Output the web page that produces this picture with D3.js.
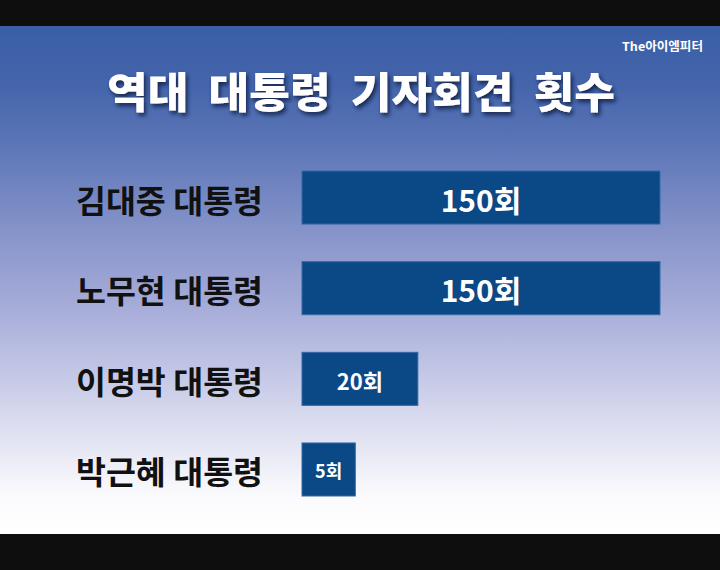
<!DOCTYPE html>
<html>
<head>
<meta charset="utf-8">
<script src="https://cdn.jsdelivr.net/npm/d3@7"></script>
<style>
  html, body { margin: 0; padding: 0; background: #0e0e0e; }
  svg { display: block; }
  text { font-family: "Noto Sans CJK KR", "Noto Sans", sans-serif; }
</style>
</head>
<body>
<script>
// ---- data ----
const titleText = "역대 대통령 기자회견 횟수";
const sourceText = "The아이엠피터";
const categories = ["김대중 대통령", "노무현 대통령", "이명박 대통령", "박근혜 대통령"];
const values = [150, 150, 20, 5];
const valueLabels = ["150회", "150회", "20회", "5회"];

// ---- chart ----
const W = 720, H = 570;
const svg = d3.select("body").append("svg").attr("width", W).attr("height", H);
const defs = svg.append("defs");

const grad = defs.append("linearGradient").attr("id", "bg")
  .attr("x1", 0).attr("y1", 0).attr("x2", 0).attr("y2", 1);
[[0, "#3a5ea7"], [0.12, "#4565ab"], [0.24, "#5d77b8"], [0.4, "#8593c9"], [0.54, "#a3aad7"],
 [0.66, "#bec2e3"], [0.77, "#d8daee"], [0.85, "#eaebf6"], [0.92, "#fafafd"], [1, "#ffffff"]]
  .forEach(([o, c]) => grad.append("stop").attr("offset", o).attr("stop-color", c));

const shadow = defs.append("filter").attr("id", "shadow")
  .attr("x", "-10%").attr("y", "-30%").attr("width", "120%").attr("height", "160%");
shadow.append("feDropShadow").attr("dx", 2).attr("dy", 3).attr("stdDeviation", 2.2)
  .attr("flood-color", "#0f1c44").attr("flood-opacity", 0.9);

// letterbox bars + background
svg.append("rect").attr("x", 0).attr("y", 0).attr("width", W).attr("height", H).attr("fill", "#0e0e0e");
svg.append("rect").attr("x", 0).attr("y", 26).attr("width", W).attr("height", 508).attr("fill", "url(#bg)");

// watermark
svg.append("text").attr("x", 622).attr("y", 45).attr("dominant-baseline", "central")
  .attr("fill", "#ffffff").attr("font-size", 12).attr("font-weight", 700)
  .attr("textLength", 81).attr("lengthAdjust", "spacingAndGlyphs").text(sourceText);

// title
svg.append("text").attr("x", 107).attr("y", 89).attr("dominant-baseline", "central")
  .attr("fill", "#ffffff").attr("font-size", 42).attr("font-weight", 900)
  .attr("filter", "url(#shadow)")
  .attr("textLength", 508).attr("lengthAdjust", "spacingAndGlyphs")
  .style("white-space", "pre").text(titleText.replace(/ /g, "  "));

// scales
const y = d3.scaleBand().domain(categories).range([171, 496]).paddingInner(0.415).paddingOuter(0);
const x = d3.scalePow().exponent(0.56).domain([0, 150]).range([302, 660]);
const fontScale = d3.scaleLinear().domain([5, 20, 150]).range([18, 22, 30]);

const rows = categories.map((c, i) => ({ c, v: values[i], label: valueLabels[i] }));

// category labels
svg.append("g").selectAll("text").data(rows).join("text")
  .attr("x", 76).attr("y", d => y(d.c) + y.bandwidth() / 2 + 1)
  .attr("dominant-baseline", "central")
  .attr("fill", "#111111").attr("font-size", 32).attr("font-weight", 700)
  .attr("textLength", 187).attr("lengthAdjust", "spacingAndGlyphs")
  .text(d => d.c);

// bars
svg.append("g").selectAll("rect").data(rows).join("rect")
  .attr("x", x(0)).attr("y", d => y(d.c))
  .attr("width", d => x(d.v) - x(0)).attr("height", y.bandwidth())
  .attr("fill", "#0b4886").attr("stroke", "#3468a6").attr("stroke-width", 1);

// value labels
svg.append("g").selectAll("text").data(rows).join("text")
  .attr("x", d => (x(0) + x(d.v)) / 2).attr("y", d => y(d.c) + y.bandwidth() / 2 + 1)
  .attr("text-anchor", "middle").attr("dominant-baseline", "central")
  .attr("fill", "#ffffff").attr("font-size", d => fontScale(d.v)).attr("font-weight", 700)
  .text(d => d.label);
</script>
</body>
</html>
